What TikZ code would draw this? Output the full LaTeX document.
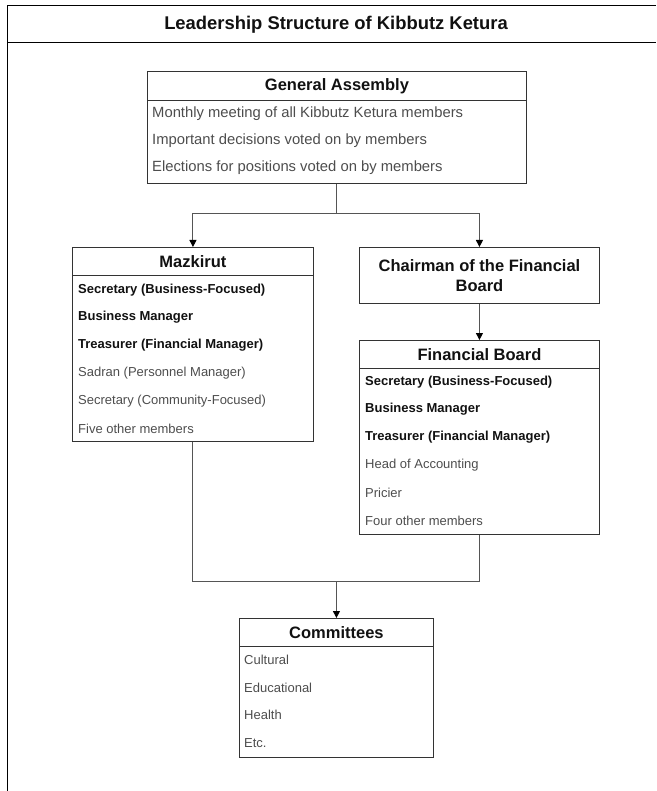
\documentclass[tikz,border=0pt]{standalone}
\usepackage{fontspec}
\setmainfont{Liberation Sans}
\usetikzlibrary{arrows.meta}
\definecolor{boxline}{HTML}{333333}
\definecolor{conn}{HTML}{555555}
\definecolor{lighttext}{HTML}{4D4D4D}
\definecolor{darktext}{HTML}{111111}
\tikzset{
  hdr/.style={draw=boxline, line width=0.9pt, rectangle, inner sep=0pt, anchor=north west,
    font=\bfseries\fontsize{16.5}{19}\selectfont, text=darktext, align=center},
  bodybox/.style={draw=boxline, line width=0.9pt, rectangle, inner sep=0pt, anchor=north west},
  itemb/.style={anchor=west, inner sep=0pt, font=\bfseries\fontsize{13}{15}\selectfont, text=darktext},
  itemn/.style={anchor=west, inner sep=0pt, font=\fontsize{13}{15}\selectfont, text=lighttext},
  itemga/.style={anchor=west, inner sep=0pt, font=\fontsize{14.8}{17}\selectfont, text=lighttext},
  conline/.style={draw=conn, line width=1pt},
  conarrow/.style={conline, -{Triangle[length=7pt,width=7pt,color=black]}},
}
\begin{document}
\begin{tikzpicture}[x=1pt,y=-1pt]
\useasboundingbox (0,0) rectangle (656,791);
% outer frame
\draw[line width=1pt, black] (656,6) -- (7,6) -- (7,791);
\draw[line width=1pt, black] (7,43) -- (656,43);
\node[font=\bfseries\fontsize{18.4}{21}\selectfont, text=darktext] (title) at (336,25) {Leadership Structure of Kibbutz Ketura};

% General Assembly
\node[hdr, minimum width=379pt, minimum height=29pt] (gah) at (147,71) {General Assembly};
\node[bodybox, minimum width=379pt, minimum height=83pt] (gab) at (147,100) {};
\node[itemga] (ga1) at (152,114) {Monthly meeting of all Kibbutz Ketura members};
\node[itemga] (ga2) at (152,141) {Important decisions voted on by members};
\node[itemga] (ga3) at (152,168) {Elections for positions voted on by members};

% Mazkirut
\node[hdr, minimum width=241pt, minimum height=28pt] (mzh) at (72,247) {Mazkirut};
\node[bodybox, minimum width=241pt, minimum height=166pt] (mzb) at (72,275) {};
\node[itemb] (mz1) at (78,290) {Secretary (Business-Focused)};
\node[itemb] (mz2) at (78,317) {Business Manager};
\node[itemb] (mz3) at (78,345) {Treasurer (Financial Manager)};
\node[itemn] (mz4) at (78,373) {Sadran (Personnel Manager)};
\node[itemn] (mz5) at (78,401) {Secretary (Community-Focused)};
\node[itemn] (mz6) at (78,429) {Five other members};

% Chairman
\node[hdr, minimum width=240pt, minimum height=56pt, font=\bfseries\fontsize{16.5}{19.5}\selectfont] (ch) at (359,247) {Chairman of the Financial\\Board};

% Financial Board
\node[hdr, minimum width=240pt, minimum height=28pt] (fbh) at (359,340) {Financial Board};
\node[bodybox, minimum width=240pt, minimum height=166pt] (fbb) at (359,368) {};
\node[itemb] (fb1) at (365,382) {Secretary (Business-Focused)};
\node[itemb] (fb2) at (365,409) {Business Manager};
\node[itemb] (fb3) at (365,437) {Treasurer (Financial Manager)};
\node[itemn] (fb4) at (365,465) {Head of Accounting};
\node[itemn] (fb5) at (365,493) {Pricier};
\node[itemn] (fb6) at (365,521) {Four other members};

% Committees
\node[hdr, minimum width=194pt, minimum height=28pt] (cmh) at (239,618) {Committees};
\node[bodybox, minimum width=194pt, minimum height=111pt] (cmb) at (239,646) {};
\node[itemn] (cm1) at (244,660) {Cultural};
\node[itemn] (cm2) at (244,688) {Educational};
\node[itemn] (cm3) at (244,715) {Health};
\node[itemn] (cm4) at (244,743) {Etc.};

% connectors
\coordinate (lvl1) at (0,214);
\coordinate (lvl2) at (0,581);
\coordinate (j1) at (gab.south |- lvl1);
\coordinate (j2) at (cmh.north |- lvl2);
\draw[conline] (gab.south) -- (j1);
\draw[conarrow] (j1) -| (mzh.north);
\draw[conarrow] (j1) -| (ch.north);
\draw[conarrow] (ch.south) -- (fbh.north);
\draw[conline] (mzb.south) |- (j2);
\draw[conline] (fbb.south) |- (j2);
\draw[conarrow] (j2) -- (cmh.north);
\end{tikzpicture}
\end{document}
